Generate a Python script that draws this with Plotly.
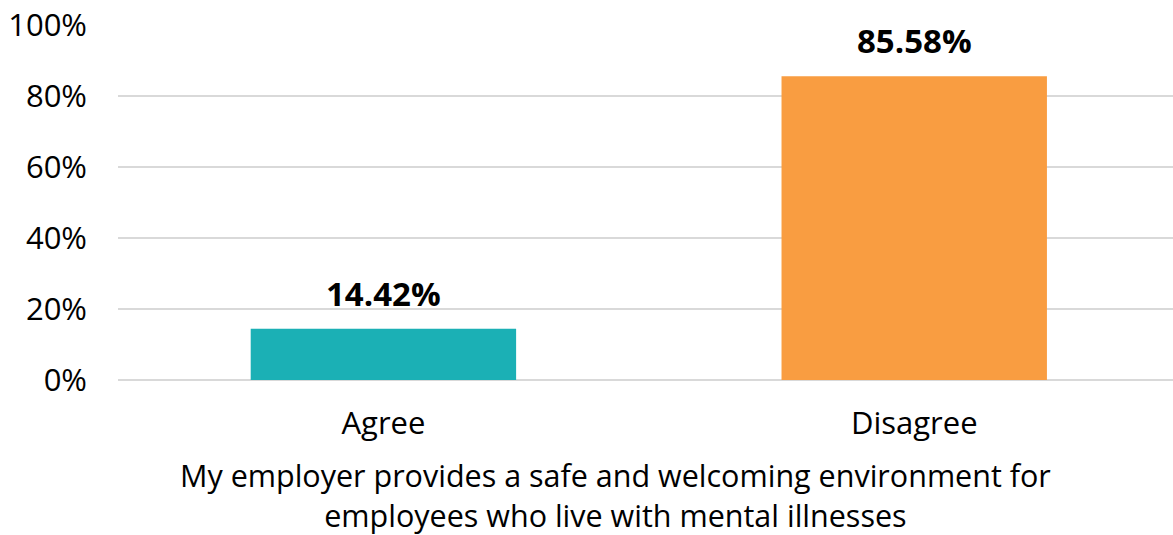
import plotly.graph_objects as go

categories = ["Agree", "Disagree"]
values = [14.42, 85.58]
colors = ["#1BB0B5", "#F99D41"]
tick_vals = [0, 20, 40, 60, 80, 100]
tick_text = ["0%", "20%", "40%", "60%", "80%", "100%"]
x_title = "My employer provides a safe and welcoming environment for<br>employees who live with mental illnesses"

FONT = "Open Sans"

fig = go.Figure()
fig.add_trace(go.Bar(
    x=categories, y=values, marker=dict(color=colors, line=dict(width=0)),
    width=0.5, hoverinfo="skip",
))
for c, v in zip(categories, values):
    fig.add_annotation(x=c, y=v, text=f"<b>{v:.2f}%</b>", showarrow=False,
                       yanchor="bottom", yshift=11,
                       font=dict(family=FONT, size=33, color="#000000"))
fig.add_annotation(xref="paper", yref="paper", x=0.472, y=-0.202, yanchor="top",
                   text=x_title, showarrow=False,
                   font=dict(family=FONT, size=30.5, color="#000000"))

fig.update_layout(
    width=1173, height=535,
    margin=dict(l=118, r=0, t=24.5, b=155),
    paper_bgcolor="white", plot_bgcolor="white",
    showlegend=False,
    font=dict(family=FONT, size=31, color="#000000"),
    bargap=0.5,
)
fig.update_xaxes(type="category", range=[-0.5, 1.4875], showgrid=False,
                 showline=False, zeroline=False, ticks="", automargin=False,
                 tickfont=dict(family=FONT, size=31, color="#000000"),
                 ticklabelstandoff=22)
fig.update_yaxes(range=[0, 100], tickvals=tick_vals, ticktext=tick_text,
                 showgrid=True, gridcolor="#D9D9D9", gridwidth=2,
                 zeroline=True, zerolinecolor="#D9D9D9", zerolinewidth=2,
                 showline=False, ticks="", automargin=False,
                 tickfont=dict(family=FONT, size=31, color="#000000"),
                 ticklabelstandoff=30)

fig.write_html("out.html", config={"displayModeBar": False},
               post_script="document.body.style.margin='0px';")
